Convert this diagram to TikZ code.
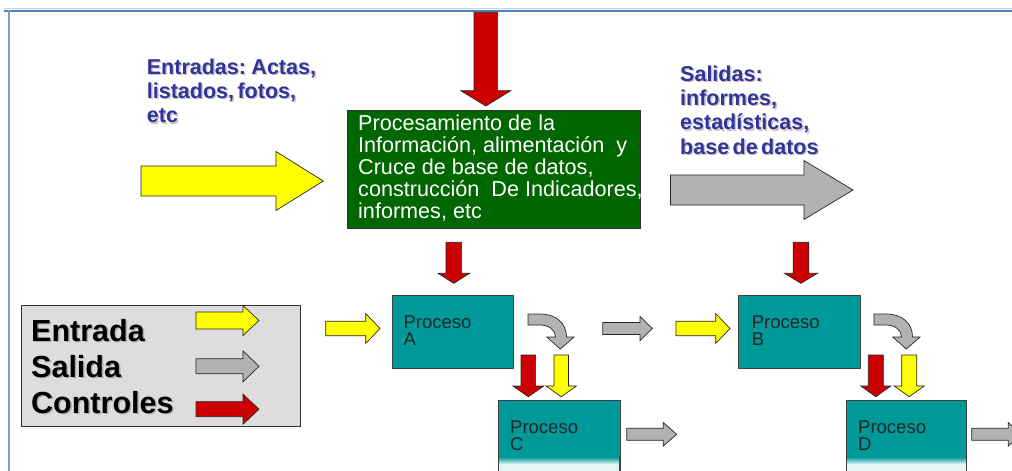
\documentclass[tikz,border=0pt]{standalone}
\usepackage{fontspec}
\setmainfont{Liberation Sans}
\definecolor{tealbox}{HTML}{009999}
\definecolor{dgreen}{HTML}{006600}
\definecolor{ind}{HTML}{333399}
\definecolor{ylw}{HTML}{FFFF00}
\definecolor{gry}{HTML}{B2B2B2}
\definecolor{rd}{HTML}{CC0000}
\definecolor{lgray}{HTML}{DDDDDD}
\definecolor{frameblue}{HTML}{4F81BD}
\newcommand\Stack[1]{\vtop{\lineskiplimit=-\maxdimen\lineskip=0pt\relax #1}}
\newcommand\TightSpace{\spaceskip=0.16em\relax}
\newcommand\HArrow[7]{\path[blk,fill=#1] (#2,#5-#6) -- (#3,#5-#6) -- (#3,#5-#7) -- (#4,#5) -- (#3,#5+#7) -- (#3,#5+#6) -- (#2,#5+#6) -- cycle;}
\newcommand\VArrow[7]{\path[blk,fill=#1] (#2-#6,#3) -- (#2+#6,#3) -- (#2+#6,#4) -- (#2+#7,#4) -- (#2,#5) -- (#2-#7,#4) -- (#2-#6,#4) -- cycle;}
\newcommand\CurvArrow[1]{\path[blk,fill=gry,shift={(#1,0)}] (528,314) -- (540,314) .. controls (556,314) and (566.5,323) .. (566.5,337) -- (574,337) -- (560.3,349) -- (546.7,337) -- (555.5,337) .. controls (555.5,330) and (549,325) .. (540,325) -- (528,325) -- cycle;}
\tikzset{
  blk/.style={draw=black!85, line width=0.7pt, line join=miter},
  lbl/.style={anchor=base west, inner sep=0pt, text=ind, font=\fontsize{21.5}{24.4}\selectfont\bfseries},
  lblshadow/.style={lbl, text=black, opacity=0.22},
  gtxt/.style={anchor=base west, inner sep=0pt, text=white, font=\fontsize{21.6}{22.1}\selectfont},
  legtxt/.style={anchor=base west, inner sep=0pt, text=black, font=\fontsize{30.5}{36}\selectfont\bfseries},
  ptxt/.style={anchor=base west, inner sep=0pt, text=black!85, font=\fontsize{18.5}{16.7}\selectfont},
  procbox/.style={draw=black!75, fill=tealbox, line width=0.8pt, anchor=north west, inner sep=0pt, minimum width=121.3pt, minimum height=73.3pt},
  lowbox/.style={procbox, minimum height=80pt},
}
\begin{document}
\begin{tikzpicture}[x=1pt,y=-1pt]
\useasboundingbox (0,0) rectangle (1012,471);
\clip (0,0) rectangle (1012,471);
\fill[white] (0,0) rectangle (1012,471);
% frame
\draw[color=frameblue!35, line width=1pt] (4,8.6) -- (1012,8.6);
\draw[color=frameblue, line width=2pt] (4,10.5) -- (1012,10.5);
\draw[color=frameblue!75, line width=1.6pt] (9,10) -- (9,471);

% top control arrow
\VArrow{rd}{485.8}{12.3}{90.7}{106}{11.8}{25}

% entradas label
\node[lblshadow] (entradas-s) at (148.2,75.5) {\TightSpace\Stack{\hbox{Entradas: Actas,}\hbox{listados, fotos,}\hbox{etc}}};
\node[lbl] (entradas) at (146.7,74) {\TightSpace\Stack{\hbox{Entradas: Actas,}\hbox{listados, fotos,}\hbox{etc}}};
\HArrow{ylw}{141}{276}{323.3}{181}{15}{29.5}

% central processing box
\node[draw=black!80, fill=dgreen, line width=0.7pt, minimum width=292.7pt, minimum height=118pt, anchor=north west, inner sep=0pt] (proc) at (347.3,110) {};
\node[gtxt] (proctxt) at (358,130.5) {\Stack{\hbox{Procesamiento de la}\hbox{Información, alimentación\ \ y}\hbox{Cruce de base de datos,}\hbox{construcción\ \ De Indicadores,}\hbox{informes, etc}}};

% salidas label
\node[lblshadow] (salidas-s) at (681.5,82.5) {\TightSpace\Stack{\hbox{Salidas:}\hbox{informes,}\hbox{estadísticas,}\hbox{base de datos}}};
\node[lbl] (salidas) at (680,81) {\TightSpace\Stack{\hbox{Salidas:}\hbox{informes,}\hbox{estadísticas,}\hbox{base de datos}}};
\HArrow{gry}{670.5}{804}{853}{190}{15}{29.5}

% legend
\node[draw=black!80, fill=lgray, line width=0.7pt, minimum width=279.5pt, minimum height=121pt, anchor=north west, inner sep=0pt] (legend) at (20.5,305) {};
\node[legtxt, opacity=0.22] (legtxt-s) at (32.5,342.5) {\Stack{\hbox{Entrada}\hbox{Salida}\hbox{Controles}}};
\node[legtxt] (legtxt) at (31,341) {\Stack{\hbox{Entrada}\hbox{Salida}\hbox{Controles}}};
\HArrow{ylw}{196}{243}{259}{320.5}{8.5}{15}
\HArrow{gry}{196}{243}{259}{366.3}{7.5}{15.5}
\HArrow{rd}{196}{243}{259}{409.2}{7.5}{15}

% process boxes
\node[procbox] (A) at (391.7,295) {};
\node[procbox] (B) at (738.3,295) {};
\node[lowbox] (C) at (498.3,400) {};
\node[lowbox, minimum width=120pt] (D) at (846,400) {};
\foreach \xa/\xb in {498.3/619.6, 846/966}{
  \fill[top color=tealbox, bottom color=white] (\xa+0.4,457) rectangle (\xb-0.4,465);
  \fill[tealbox!10] (\xa+0.4,465) rectangle (\xb-0.4,472);
  \draw[black!75, line width=0.8pt] (\xa,456) -- (\xa,472) (\xb,456) -- (\xb,472);
}
\foreach \n/\x/\y/\t in {A/403.3/328.3/A, B/751.7/328.3/B, C/510/433.3/C, D/858/433.3/D}{
  \node[ptxt] (\n-t) at (\x,\y) {\Stack{\hbox{Proceso}\hbox{\t}}};
}

% arrows around processes
\VArrow{rd}{453.8}{242.3}{273.3}{283.3}{7.8}{15.8}
\VArrow{rd}{801}{242.3}{273.3}{283.3}{7.8}{16.5}
\HArrow{ylw}{325.7}{365.7}{380}{328.5}{7.2}{15}
\HArrow{gry}{602.7}{640}{652.3}{328.5}{6}{12}
\HArrow{ylw}{676}{715.7}{730}{328.5}{7.2}{15}
\CurvArrow{0}
\CurvArrow{346}
\VArrow{rd}{528.3}{355}{386}{396.7}{7.3}{15.5}
\VArrow{ylw}{561.2}{355}{386}{396.7}{7.2}{15.2}
\VArrow{rd}{875.8}{355}{386}{396.7}{7.5}{15}
\VArrow{ylw}{909.2}{355}{386}{396.7}{7.5}{15}
\HArrow{gry}{626.7}{663.3}{676.7}{434.3}{6}{11.7}
\HArrow{gry}{971.7}{1008.3}{1021.7}{434.3}{6}{11.7}
\end{tikzpicture}
\end{document}
